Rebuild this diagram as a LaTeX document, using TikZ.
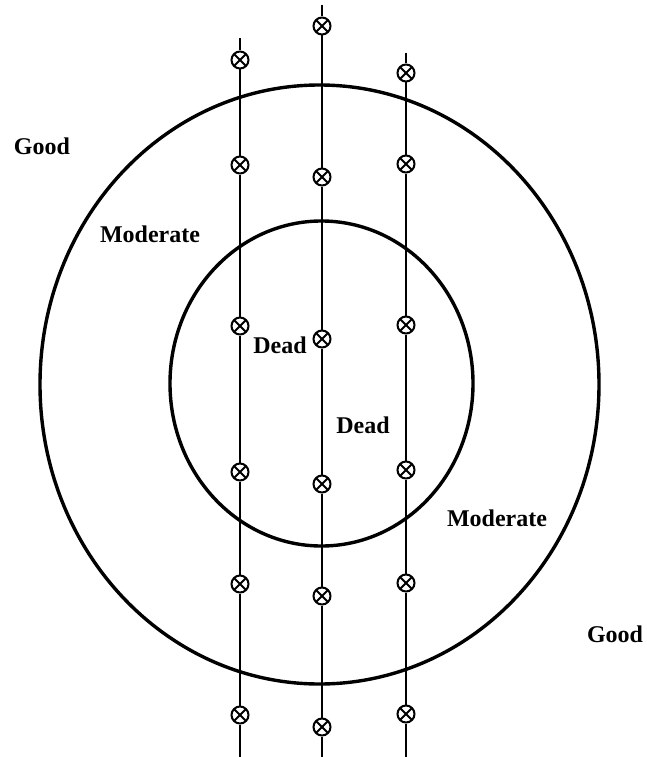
\documentclass[tikz,border=0pt]{standalone}
\usepackage{fontspec}
\setmainfont{Liberation Serif}
\begin{document}
\begin{tikzpicture}[x=1pt,y=-1pt,
  zone/.style={line width=3.4pt},
  wire/.style={line width=2.6pt},
  xmark/.style={circle,draw,fill=white,line width=2pt,minimum size=17pt,inner sep=0pt,
    path picture={
      \draw[line width=1.8pt] ([shift={(45:8.5pt)}]path picture bounding box.center) -- ([shift={(225:8.5pt)}]path picture bounding box.center);
      \draw[line width=1.8pt] ([shift={(135:8.5pt)}]path picture bounding box.center) -- ([shift={(315:8.5pt)}]path picture bounding box.center);
    }},
  lbl/.style={font=\fontsize{24}{26}\selectfont\bfseries,inner sep=0pt}]
\useasboundingbox[fill=white] (0,0) rectangle (646,757);
% zones
\draw[zone] (319.5,384.5) ellipse [x radius=279.5pt, y radius=299.5pt];
\draw[zone] (321.5,383.5) ellipse [x radius=151.5pt, y radius=162.5pt];
% left line
\coordinate (Lt) at (240,38);
\coordinate (Lb) at (240,757);
\node[xmark] (L1) at (240,60) {};
\node[xmark] (L2) at (240,165) {};
\node[xmark] (L3) at (240,326) {};
\node[xmark] (L4) at (240,472) {};
\node[xmark] (L5) at (240,584) {};
\node[xmark] (L6) at (240,715) {};
% middle line
\coordinate (Mt) at (322,5);
\coordinate (Mb) at (322,757);
\node[xmark] (M1) at (322,26) {};
\node[xmark] (M2) at (322,177) {};
\node[xmark] (M3) at (322,339) {};
\node[xmark] (M4) at (322,484) {};
\node[xmark] (M5) at (322,596) {};
\node[xmark] (M6) at (322,727) {};
% right line
\coordinate (Rt) at (406,53);
\coordinate (Rb) at (406,757);
\node[xmark] (R1) at (406,73) {};
\node[xmark] (R2) at (406,164) {};
\node[xmark] (R3) at (406,325) {};
\node[xmark] (R4) at (406,470) {};
\node[xmark] (R5) at (406,583) {};
\node[xmark] (R6) at (406,714) {};
\draw[wire] (Lt) -- (L1) -- (L2) -- (L3) -- (L4) -- (L5) -- (L6) -- (Lb);
\draw[wire] (Mt) -- (M1) -- (M2) -- (M3) -- (M4) -- (M5) -- (M6) -- (Mb);
\draw[wire] (Rt) -- (R1) -- (R2) -- (R3) -- (R4) -- (R5) -- (R6) -- (Rb);
% labels
\node[lbl] (g1) at (42,146) {Good};
\node[lbl] (m1) at (150,234) {Moderate};
\node[lbl] (d1) at (280,345) {Dead};
\node[lbl] (d2) at (363,425) {Dead};
\node[lbl] (m2) at (497,518) {Moderate};
\node[lbl] (g2) at (615,634) {Good};
\end{tikzpicture}
\end{document}
